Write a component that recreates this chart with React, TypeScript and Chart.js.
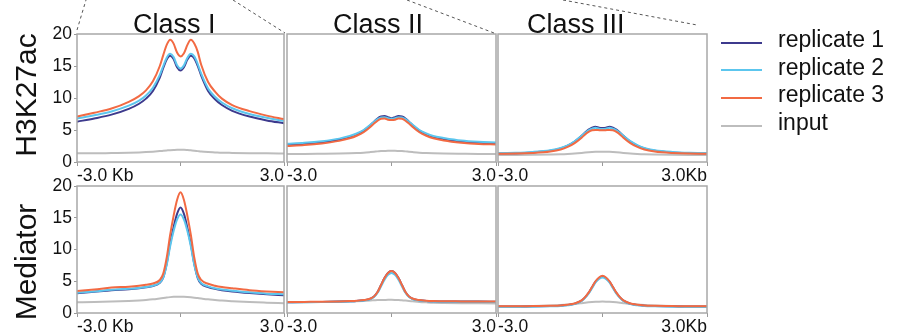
import React, { useEffect, useRef } from "react";
import { Chart, registerables } from "chart.js";
Chart.register(...registerables);

// ---------- data ----------
const XS = [-3, -2.5, -2, -1.5, -1.2, -1, -0.8, -0.6, -0.5, -0.4, -0.3, -0.2, -0.1, 0, 0.1, 0.2, 0.3, 0.4, 0.5, 0.6, 0.8, 1, 1.2, 1.5, 2, 2.5, 3];
const X_TICKS = [-3, 0, 3];
const X_TICK_LABELS = [
  ["-3.0 Kb", "", "3.0"],
  ["-3.0", "", "3.0"],
  ["-3.0", "", "3.0Kb"],
];
const Y_TICKS = [0, 5, 10, 15, 20];
const SERIES_NAMES = ["replicate 1", "replicate 2", "replicate 3", "input"];
const COL_TITLES = ["Class I", "Class II", "Class III"];
const ROW_LABELS = ["H3K27ac", "Mediator"];

const H3_C1_REP1 = [6.3, 6.8, 7.4, 8.3, 9.1, 9.9, 11.1, 13.2, 14.7, 16.0, 16.6, 16.1, 14.8, 14.3, 14.8, 16.0, 16.6, 16.2, 15.0, 13.5, 11.1, 9.8, 8.9, 8.0, 7.1, 6.5, 6.05];
const H3_C1_REP2 = [6.8, 7.3, 7.9, 8.8, 9.6, 10.4, 11.6, 13.6, 15.0, 16.3, 16.9, 16.4, 15.1, 14.6, 15.1, 16.3, 16.9, 16.5, 15.3, 13.8, 11.5, 10.2, 9.3, 8.4, 7.5, 6.9, 6.4];
const H3_C1_REP3 = [7.1, 7.7, 8.35, 9.4, 10.3, 11.2, 12.6, 15.0, 16.7, 18.3, 19.1, 18.5, 17.1, 16.5, 17.0, 18.3, 19.1, 18.5, 17.2, 15.2, 12.5, 11.0, 9.9, 8.9, 7.95, 7.25, 6.7];
const H3_C1_INPUT = [1.35, 1.35, 1.4, 1.45, 1.5, 1.55, 1.62, 1.7, 1.75, 1.8, 1.85, 1.88, 1.9, 1.9, 1.9, 1.87, 1.82, 1.77, 1.7, 1.63, 1.55, 1.5, 1.45, 1.42, 1.38, 1.35, 1.33];

const H3_C2_REP1 = [2.7, 2.85, 3.1, 3.5, 3.9, 4.3, 4.9, 5.8, 6.3, 6.8, 7.1, 7.2, 7.0, 6.85, 7.0, 7.2, 7.1, 6.8, 6.3, 5.8, 4.9, 4.3, 3.9, 3.6, 3.2, 3.0, 2.9];
const H3_C2_REP2 = [2.85, 3.0, 3.25, 3.65, 4.05, 4.45, 5.0, 5.85, 6.3, 6.7, 6.95, 7.0, 6.85, 6.75, 6.85, 7.0, 6.95, 6.7, 6.3, 5.85, 5.0, 4.45, 4.05, 3.75, 3.35, 3.15, 3.05];
const H3_C2_REP3 = [2.5, 2.65, 2.9, 3.3, 3.7, 4.1, 4.65, 5.5, 6.0, 6.45, 6.75, 6.8, 6.6, 6.55, 6.6, 6.8, 6.75, 6.45, 6.0, 5.5, 4.65, 4.1, 3.7, 3.35, 3.0, 2.8, 2.75];
const H3_C2_INPUT = [1.25, 1.25, 1.28, 1.32, 1.36, 1.4, 1.46, 1.55, 1.6, 1.66, 1.7, 1.73, 1.75, 1.75, 1.75, 1.73, 1.7, 1.66, 1.6, 1.55, 1.46, 1.4, 1.36, 1.32, 1.28, 1.25, 1.25];

const H3_C3_REP1 = [1.35, 1.38, 1.5, 1.75, 2.1, 2.55, 3.2, 4.1, 4.6, 5.05, 5.35, 5.5, 5.35, 5.3, 5.35, 5.5, 5.35, 5.05, 4.6, 4.1, 3.2, 2.55, 2.1, 1.75, 1.5, 1.4, 1.35];
const H3_C3_REP2 = [1.4, 1.45, 1.58, 1.85, 2.2, 2.6, 3.25, 4.1, 4.55, 4.95, 5.2, 5.35, 5.2, 5.15, 5.2, 5.35, 5.2, 4.95, 4.55, 4.1, 3.25, 2.65, 2.2, 1.85, 1.58, 1.45, 1.4];
const H3_C3_REP3 = [1.3, 1.32, 1.42, 1.65, 1.95, 2.35, 2.95, 3.8, 4.3, 4.7, 4.95, 5.0, 4.98, 4.95, 4.98, 5.0, 4.95, 4.7, 4.3, 3.8, 2.95, 2.35, 1.95, 1.65, 1.42, 1.32, 1.3];
const H3_C3_INPUT = [1.1, 1.1, 1.12, 1.16, 1.2, 1.25, 1.32, 1.42, 1.48, 1.53, 1.57, 1.59, 1.6, 1.6, 1.6, 1.59, 1.57, 1.53, 1.48, 1.42, 1.32, 1.25, 1.2, 1.16, 1.12, 1.1, 1.1];

const MED_C1_REP1 = [3.1, 3.35, 3.6, 3.75, 3.9, 4.05, 4.25, 4.75, 5.6, 7.8, 10.9, 13.5, 15.6, 16.6, 15.6, 13.4, 10.8, 7.7, 5.5, 4.6, 4.1, 3.8, 3.6, 3.4, 3.15, 2.95, 2.8];
const MED_C1_REP2 = [3.2, 3.4, 3.65, 3.8, 3.95, 4.1, 4.3, 4.8, 5.6, 7.6, 10.5, 12.9, 14.7, 15.5, 14.7, 12.9, 10.5, 7.6, 5.6, 4.7, 4.2, 3.9, 3.7, 3.5, 3.25, 3.05, 2.95];
const MED_C1_REP3 = [3.45, 3.7, 4.0, 4.15, 4.3, 4.45, 4.65, 5.2, 6.2, 8.7, 12.3, 15.3, 17.8, 19.0, 17.8, 15.3, 12.3, 8.7, 6.2, 5.2, 4.6, 4.3, 4.1, 3.9, 3.6, 3.4, 3.25];
const MED_C1_INPUT = [1.68, 1.72, 1.8, 1.9, 1.98, 2.05, 2.15, 2.3, 2.38, 2.45, 2.5, 2.54, 2.56, 2.57, 2.56, 2.53, 2.48, 2.42, 2.35, 2.28, 2.15, 2.05, 1.95, 1.85, 1.72, 1.62, 1.53];

const MED_C2_REP1 = [1.7, 1.72, 1.75, 1.8, 1.85, 1.9, 2.0, 2.25, 2.6, 3.3, 4.4, 5.5, 6.3, 6.6, 6.3, 5.5, 4.4, 3.3, 2.6, 2.25, 2.0, 1.9, 1.85, 1.8, 1.8, 1.8, 1.78];
const MED_C2_REP2 = [1.68, 1.7, 1.73, 1.78, 1.83, 1.88, 1.97, 2.2, 2.55, 3.2, 4.2, 5.25, 6.0, 6.3, 6.0, 5.25, 4.2, 3.2, 2.55, 2.2, 1.97, 1.88, 1.83, 1.78, 1.77, 1.76, 1.75];
const MED_C2_REP3 = [1.72, 1.75, 1.78, 1.83, 1.88, 1.93, 2.03, 2.28, 2.62, 3.3, 4.4, 5.5, 6.3, 6.6, 6.3, 5.5, 4.4, 3.3, 2.62, 2.28, 2.03, 1.93, 1.88, 1.84, 1.83, 1.82, 1.8];
const MED_C2_INPUT = [1.7, 1.7, 1.72, 1.76, 1.8, 1.84, 1.9, 1.97, 2.0, 2.03, 2.05, 2.06, 2.07, 2.07, 2.06, 2.04, 2.0, 1.96, 1.9, 1.85, 1.75, 1.68, 1.62, 1.58, 1.54, 1.52, 1.5];

const MED_C3_REP1 = [1.0, 1.0, 1.05, 1.1, 1.15, 1.25, 1.45, 1.95, 2.45, 3.15, 4.05, 4.95, 5.5, 5.75, 5.5, 4.95, 4.05, 3.15, 2.45, 1.95, 1.45, 1.25, 1.15, 1.1, 1.05, 1.0, 1.0];
const MED_C3_REP2 = [0.95, 0.95, 1.0, 1.05, 1.1, 1.2, 1.4, 1.9, 2.4, 3.05, 3.9, 4.8, 5.35, 5.6, 5.35, 4.8, 3.9, 3.05, 2.4, 1.9, 1.4, 1.2, 1.1, 1.05, 1.0, 0.95, 0.95];
const MED_C3_REP3 = [1.05, 1.05, 1.1, 1.15, 1.2, 1.3, 1.5, 2.0, 2.5, 3.2, 4.1, 5.0, 5.6, 5.85, 5.6, 5.0, 4.1, 3.2, 2.5, 2.0, 1.5, 1.3, 1.2, 1.15, 1.1, 1.05, 1.05];
const MED_C3_INPUT = [1.1, 1.1, 1.12, 1.18, 1.25, 1.32, 1.42, 1.55, 1.62, 1.68, 1.73, 1.77, 1.79, 1.8, 1.79, 1.77, 1.73, 1.68, 1.62, 1.55, 1.42, 1.32, 1.25, 1.18, 1.12, 1.1, 1.1];

const PANELS = [
  [
    [H3_C1_REP1, H3_C1_REP2, H3_C1_REP3, H3_C1_INPUT],
    [H3_C2_REP1, H3_C2_REP2, H3_C2_REP3, H3_C2_INPUT],
    [H3_C3_REP1, H3_C3_REP2, H3_C3_REP3, H3_C3_INPUT],
  ],
  [
    [MED_C1_REP1, MED_C1_REP2, MED_C1_REP3, MED_C1_INPUT],
    [MED_C2_REP1, MED_C2_REP2, MED_C2_REP3, MED_C2_INPUT],
    [MED_C3_REP1, MED_C3_REP2, MED_C3_REP3, MED_C3_INPUT],
  ],
];

// ---------- style / layout ----------
const COLORS = ["#3d3a8d", "#5cc6ee", "#f26a43", "#bdbdbd"];
const DRAW_ORDER = [2, 1, 0, 3];
const FONT = "'Liberation Sans', Arial, Helvetica, sans-serif";
const COL_BOUNDS = [[77, 284], [287, 496], [498, 707]];
const ROW_BOUNDS = [[34, 162], [186, 313]];
const Y_AXIS_W = 37;
const X_AXIS_H = 24;
const PAD_TOP = 12;
const BOX_COLOR = "#a8a8a8";

const boxPlugin = {
  id: "panelBox",
  afterDatasetsDraw(chart: any) {
    const { ctx, chartArea: a } = chart;
    ctx.save();
    ctx.strokeStyle = BOX_COLOR;
    ctx.lineWidth = 1.5;
    ctx.strokeRect(a.left, a.top, a.right - a.left, a.bottom - a.top);
    ctx.restore();
  },
};

function Panel({ row, col }: { row: number; col: number }) {
  const ref = useRef<HTMLCanvasElement | null>(null);
  const [L, R] = COL_BOUNDS[col];
  const [T, B] = ROW_BOUNDS[row];
  const showY = col === 0;
  const cx = showY ? L - Y_AXIS_W : L - 2;
  const cy = T - PAD_TOP;
  const cw = R + 2 - cx;
  const ch = B + X_AXIS_H - cy;

  useEffect(() => {
    const series = PANELS[row][col];
    const chart = new Chart(ref.current as HTMLCanvasElement, {
      type: "line",
      data: {
        datasets: series.map((ys, i) => ({
          label: SERIES_NAMES[i],
          data: XS.map((x, j) => ({ x, y: ys[j] })),
          borderColor: COLORS[i],
          backgroundColor: COLORS[i],
          borderWidth: 2,
          pointRadius: 0,
          fill: false,
          cubicInterpolationMode: "monotone",
          order: DRAW_ORDER[i],
        })),
      },
      options: {
        animation: false,
        responsive: false,
        events: [],
        layout: { padding: { top: PAD_TOP, right: 2, bottom: 0, left: showY ? 0 : 2 } },
        plugins: { legend: { display: false }, tooltip: { enabled: false }, title: { display: false } },
        scales: {
          x: {
            type: "linear",
            min: -3,
            max: 3,
            afterBuildTicks: (s: any) => {
              s.ticks = X_TICKS.map((v) => ({ value: v }));
            },
            afterFit: (s: any) => {
              s.height = X_AXIS_H;
              s.paddingLeft = 0;
              s.paddingRight = 0;
            },
            ticks: {
              align: "inner",
              maxRotation: 0,
              autoSkip: false,
              padding: 0,
              color: "#111",
              font: { family: FONT, size: 17.5 },
              callback: (_v: any, i: number) => X_TICK_LABELS[col][i],
            },
            grid: { drawOnChartArea: false, drawTicks: true, tickLength: 4, color: "#999", lineWidth: 1 },
            border: { display: false },
          },
          y: {
            type: "linear",
            display: showY,
            min: 0,
            max: 20,
            afterBuildTicks: (s: any) => {
              s.ticks = Y_TICKS.map((v) => ({ value: v }));
            },
            afterFit: (s: any) => {
              s.width = showY ? Y_AXIS_W : 0;
              s.paddingTop = 0;
              s.paddingBottom = 0;
            },
            ticks: {
              padding: 2,
              color: "#111",
              font: { family: FONT, size: 17.5 },
              callback: (v: any) => String(v),
            },
            grid: { drawOnChartArea: false, drawTicks: true, tickLength: 3, color: "#999", lineWidth: 1 },
            border: { display: false },
          },
        },
      },
      plugins: [boxPlugin],
    } as any);
    return () => chart.destroy();
  }, [row, col]);

  return (
    <canvas
      ref={ref}
      width={cw}
      height={ch}
      style={{ position: "absolute", left: cx, top: cy, width: cw, height: ch }}
    />
  );
}

const TITLE_LEFTS = [133, 333, 527];
const LEGEND_TOPS = [42.7, 70, 97.5, 125.5];

export default function App() {
  const panels = [];
  for (let r = 0; r < 2; r++) for (let c = 0; c < 3; c++) panels.push(<Panel key={`${r}-${c}`} row={r} col={c} />);
  return (
    <div
      style={{
        position: "fixed",
        left: 0,
        top: 0,
        width: 901,
        height: 336,
        overflow: "hidden",
        background: "#fff",
        fontFamily: FONT,
        color: "#111",
      }}
    >
      {panels}
      <svg width={901} height={336} style={{ position: "absolute", left: 0, top: 0, pointerEvents: "none" }}>
        <g stroke="#555" strokeWidth={1} strokeDasharray="3 3" fill="none">
          <line x1={77} y1={30} x2={86} y2={0} />
          <line x1={233} y1={0} x2={285} y2={33} />
          <line x1={407} y1={0} x2={494} y2={33} />
          <line x1={563} y1={0} x2={697} y2={25} />
        </g>
      </svg>
      {COL_TITLES.map((t, i) => (
        <div
          key={t}
          style={{ position: "absolute", left: TITLE_LEFTS[i], top: 11, fontSize: 27, lineHeight: 1, whiteSpace: "nowrap" }}
        >
          {t}
        </div>
      ))}
      {ROW_LABELS.map((t, i) => (
        <div
          key={t}
          style={{
            position: "absolute",
            left: 26,
            top: i === 0 ? 95 : 262,
            fontSize: 30,
            lineHeight: 1,
            whiteSpace: "nowrap",
            transform: "translate(-50%, -50%) rotate(-90deg)",
          }}
        >
          {t}
        </div>
      ))}
      {SERIES_NAMES.map((n, i) => (
        <React.Fragment key={n}>
          <div
            style={{
              position: "absolute",
              left: 721,
              top: LEGEND_TOPS[i] - 1,
              width: 41,
              height: 2,
              background: COLORS[i],
            }}
          />
          <div
            style={{
              position: "absolute",
              left: 778,
              top: LEGEND_TOPS[i] - 14.5,
              fontSize: 23,
              lineHeight: 1,
              whiteSpace: "nowrap",
            }}
          >
            {n}
          </div>
        </React.Fragment>
      ))}
    </div>
  );
}
